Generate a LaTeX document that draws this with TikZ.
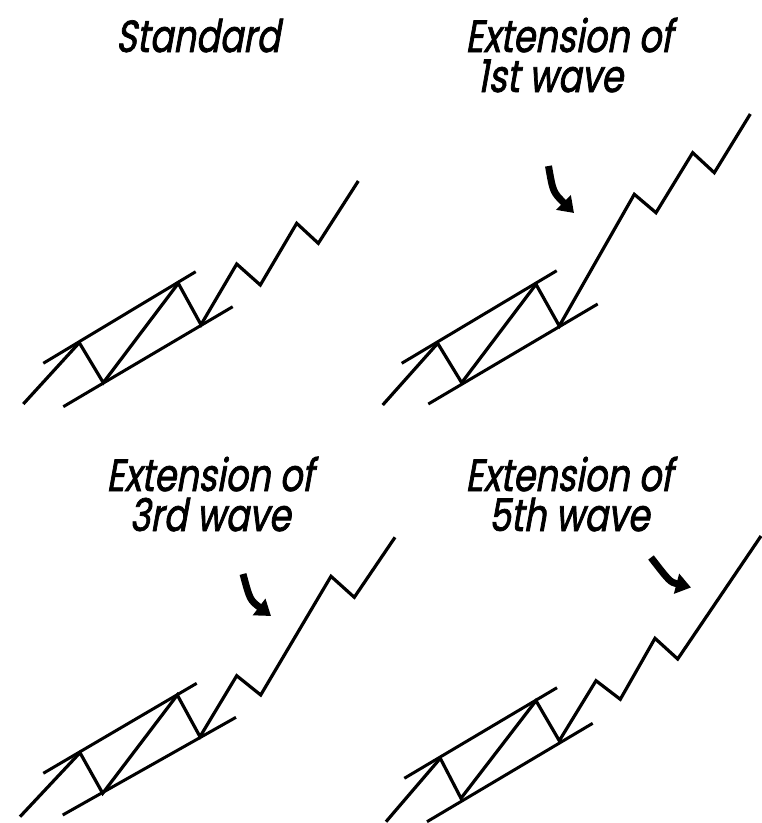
\documentclass[tikz,border=0pt]{standalone}
\usepackage{fontspec}
\newfontfamily\titlefont[FakeSlant=0.18,FakeStretch=0.78,FakeBold=1.6]{Poppins}
\usetikzlibrary{arrows.meta}
\begin{document}
\begin{tikzpicture}[x=1pt,y=-1pt,
  wave/.style={line width=3.2pt,line join=miter},
  chan/.style={line width=3pt},
  ttl/.style={font=\titlefont\fontsize{45}{40}\selectfont,anchor=base,inner sep=0pt,align=center},
  pointer/.style={line width=7pt,-{Triangle[length=15pt,width=20pt]}}]
\useasboundingbox (0,0) rectangle (762,823);
% ---------- titles (anchor = baseline of last line) ----------
\node[ttl] (t1) at (198,52) {Standard};
\node[ttl] (t2) at (569,92) {Extension of\\1st wave\hspace*{38pt}};
\node[ttl] (t3) at (210,531) {Extension of\\3rd wave};
\node[ttl] (t4) at (569,531) {Extension of\\5th wave};
% ---------- Standard ----------
\coordinate (a0) at (23.3,404);
\coordinate (a1) at (79.3,342.7);
\coordinate (a2) at (103.3,382.7);
\coordinate (a3) at (178.3,283.3);
\coordinate (a4) at (201,324.7);
\coordinate (a5) at (236.7,264);
\coordinate (a6) at (260.3,285);
\coordinate (a7) at (296.7,223.3);
\coordinate (a8) at (318.3,243.3);
\coordinate (a9) at (358.3,181);
\coordinate (au1) at (43.3,363.3);
\coordinate (au2) at (195.7,271.7);
\coordinate (al1) at (63.3,406.7);
\coordinate (al2) at (232.7,306.7);
\draw[wave] (a0) -- (a1) -- (a2) -- (a3) -- (a4) -- (a5) -- (a6) -- (a7) -- (a8) -- (a9);
\draw[chan] (au1) -- (au2);
\draw[chan] (al1) -- (al2);
% ---------- Extension of 1st wave ----------
\coordinate (b0) at (382.7,405);
\coordinate (b1) at (437.7,343.3);
\coordinate (b2) at (461.7,382.7);
\coordinate (b3) at (536,284.3);
\coordinate (b4) at (559.3,326);
\coordinate (b5) at (634.3,194.3);
\coordinate (b6) at (656,212.7);
\coordinate (b7) at (692.7,152.7);
\coordinate (b8) at (714.3,172.7);
\coordinate (b9) at (750.3,114);
\coordinate (bu1) at (401.7,363.3);
\coordinate (bu2) at (556.7,270.7);
\coordinate (bl1) at (428.3,404);
\coordinate (bl2) at (597.7,304);
\draw[wave] (b0) -- (b1) -- (b2) -- (b3) -- (b4) -- (b5) -- (b6) -- (b7) -- (b8) -- (b9);
\draw[chan] (bu1) -- (bu2);
\draw[chan] (bl1) -- (bl2);
\coordinate (bs) at (548.5,166);
\coordinate (bt) at (574,213);
\draw[pointer] (bs) .. controls (553,192) .. (bt);
% ---------- Extension of 3rd wave ----------
\coordinate (c0) at (20,816.7);
\coordinate (c1) at (80,752.7);
\coordinate (c2) at (102.7,793.3);
\coordinate (c3) at (177.3,695);
\coordinate (c4) at (200,736.7);
\coordinate (c5) at (236.7,675.7);
\coordinate (c6) at (260.7,695);
\coordinate (c7) at (331,576.3);
\coordinate (c8) at (354.3,597.3);
\coordinate (c9) at (395,537.3);
\coordinate (cu1) at (43.3,773.3);
\coordinate (cu2) at (196.7,683.3);
\coordinate (cl1) at (62.7,815);
\coordinate (cl2) at (236,717.3);
\draw[wave] (c0) -- (c1) -- (c2) -- (c3) -- (c4) -- (c5) -- (c6) -- (c7) -- (c8) -- (c9);
\draw[chan] (cu1) -- (cu2);
\draw[chan] (cl1) -- (cl2);
\coordinate (cs) at (243,574);
\coordinate (ct) at (271,616);
\draw[pointer] (cs) .. controls (250,600) .. (ct);
% ---------- Extension of 5th wave ----------
\coordinate (d0) at (386,821.7);
\coordinate (d1) at (440.3,758.3);
\coordinate (d2) at (461,798.3);
\coordinate (d3) at (536,700.7);
\coordinate (d4) at (559.3,740.7);
\coordinate (d5) at (596,680.7);
\coordinate (d6) at (620.3,699.3);
\coordinate (d7) at (655,638.3);
\coordinate (d8) at (677.7,659);
\coordinate (d9) at (761,536);
\coordinate (du1) at (404.3,778.3);
\coordinate (du2) at (557,687.7);
\coordinate (dl1) at (427,821.7);
\coordinate (dl2) at (592.7,723.3);
\draw[wave] (d0) -- (d1) -- (d2) -- (d3) -- (d4) -- (d5) -- (d6) -- (d7) -- (d8) -- (d9);
\draw[chan] (du1) -- (du2);
\draw[chan] (dl1) -- (dl2);
\coordinate (ds) at (651,557.5);
\coordinate (dt) at (691,587.5);
\draw[pointer] (ds) .. controls (670,582) .. (dt);
\end{tikzpicture}
\end{document}
